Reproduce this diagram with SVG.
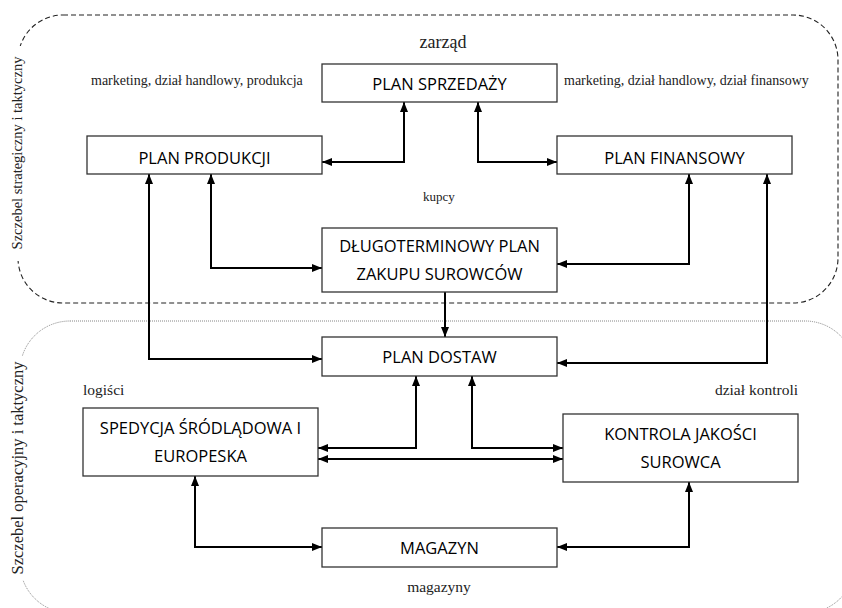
<svg xmlns="http://www.w3.org/2000/svg" width="842" height="608" viewBox="0 0 842 608">
<defs>
<marker id="ah" viewBox="0 0 10 8" refX="10" refY="4" markerWidth="10" markerHeight="8" markerUnits="userSpaceOnUse" orient="auto-start-reverse">
<path d="M0,0 L10,4 L0,8 Z" fill="#000"/>
</marker>
</defs>
<style>
.box{fill:#fff;stroke:#333;stroke-width:1.3}
.bt{font-family:"Open Sans","Noto Sans",sans-serif;font-size:16.5px;fill:#000;text-anchor:middle}
.lbl{font-family:"Liberation Serif","Times New Roman",serif;fill:#222}
.c{fill:none;stroke:#000;stroke-width:2}
.both{marker-start:url(#ah);marker-end:url(#ah)}
.one{marker-end:url(#ah)}
</style>
<rect width="842" height="608" fill="#fff"/>
<g id="zones">
<rect x="18" y="15" width="820" height="288" rx="45" ry="45" fill="none" stroke="#222" stroke-width="1.1" stroke-dasharray="5,3"/>
<rect x="20" y="321" width="835" height="292" rx="50" ry="50" fill="none" stroke="#777" stroke-width="0.9" stroke-dasharray="1,1"/>
<rect x="8" y="46" width="18" height="215" fill="#fff"/>
<rect x="8" y="356" width="18" height="224" fill="#fff"/>
<text class="lbl" font-size="14.5" text-anchor="middle" transform="translate(22,153) rotate(-90)">Szczebel strategiczny i taktyczny</text>
<text class="lbl" font-size="16.5" text-anchor="middle" transform="translate(23,468) rotate(-90)">Szczebel operacyjny i taktyczny</text>
</g>
<g id="labels">
<text class="lbl" font-size="18" x="443" y="48" text-anchor="middle">zarząd</text>
<text class="lbl" font-size="14" x="91" y="85">marketing, dział handlowy, produkcja</text>
<text class="lbl" font-size="14" x="564" y="85">marketing, dział handlowy, dział finansowy</text>
<text class="lbl" font-size="13" x="423" y="201">kupcy</text>
<text class="lbl" font-size="15.5" x="83" y="395">logiści</text>
<text class="lbl" font-size="15.5" x="798" y="395" text-anchor="end">dział kontroli</text>
<text class="lbl" font-size="15.5" x="439" y="592" text-anchor="middle">magazyny</text>
</g>
<g id="connectors">
<path class="c both" d="M404,102 V162 H322"/>
<path class="c both" d="M478,102 V162 H557"/>
<path class="c both" d="M211,174 V268 H322"/>
<path class="c both" d="M689,174 V264 H557"/>
<path class="c both" d="M149,174 V359 H322"/>
<path class="c both" d="M767,174 V363 H557"/>
<path class="c one" d="M445,292 V337"/>
<path class="c both" d="M416,376 V448 H318"/>
<path class="c both" d="M472,376 V448 H563"/>
<path class="c both" d="M318,459 H563"/>
<path class="c both" d="M195,476 V547 H322"/>
<path class="c both" d="M689,482 V547 H557"/>
</g>
<g id="plan-sprzedazy">
<rect class="box" x="322" y="64" width="235" height="38"/>
<text class="bt" x="439.5" y="90">PLAN SPRZEDAŻY</text>
</g>
<g id="plan-produkcji">
<rect class="box" x="87" y="136" width="235" height="38"/>
<text class="bt" x="204.5" y="164">PLAN PRODUKCJI</text>
</g>
<g id="plan-finansowy">
<rect class="box" x="557" y="136" width="235" height="38"/>
<text class="bt" x="674.5" y="164">PLAN FINANSOWY</text>
</g>
<g id="plan-zakupu">
<rect class="box" x="322" y="228" width="235" height="64"/>
<text class="bt" x="439.5" y="252">DŁUGOTERMINOWY PLAN</text>
<text class="bt" x="439.5" y="280">ZAKUPU SUROWCÓW</text>
</g>
<g id="plan-dostaw">
<rect class="box" x="322" y="337" width="235" height="39"/>
<text class="bt" x="439.5" y="363">PLAN DOSTAW</text>
</g>
<g id="spedycja">
<rect class="box" x="83" y="408" width="235" height="68"/>
<text class="bt" x="200.5" y="434">SPEDYCJA ŚRÓDLĄDOWA I</text>
<text class="bt" x="200.5" y="462">EUROPESKA</text>
</g>
<g id="kontrola">
<rect class="box" x="563" y="414" width="235" height="68"/>
<text class="bt" x="680.5" y="440">KONTROLA JAKOŚCI</text>
<text class="bt" x="680.5" y="468">SUROWCA</text>
</g>
<g id="magazyn">
<rect class="box" x="322" y="528" width="235" height="39"/>
<text class="bt" x="439.5" y="554">MAGAZYN</text>
</g>
</svg>
